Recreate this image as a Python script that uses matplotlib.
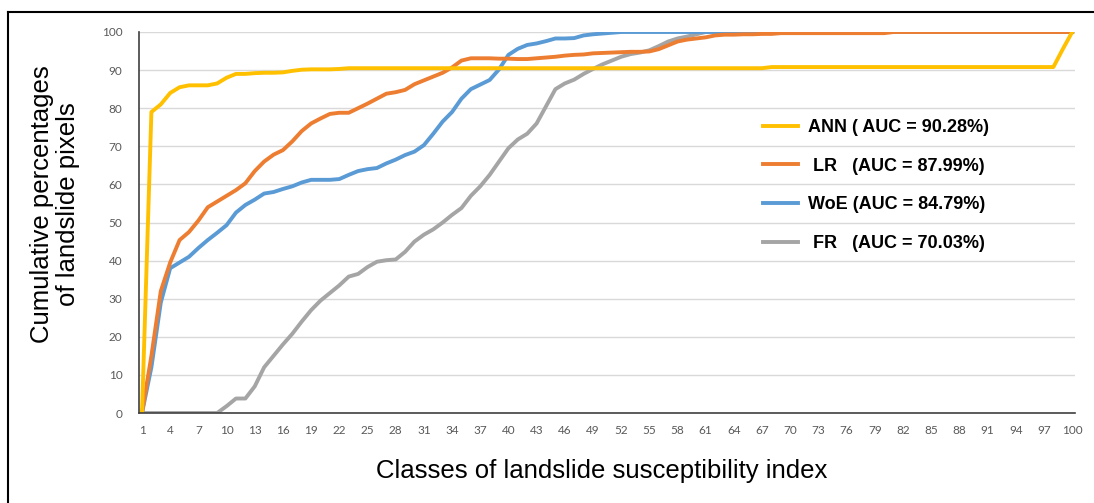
import matplotlib
matplotlib.use("Agg")
import matplotlib.pyplot as plt
from matplotlib.lines import Line2D
import numpy as np

classes = list(range(1, 101))

ann = [0, 79, 81, 84, 85.5, 86, 86, 86, 86.5, 88,
       89, 89, 89.2, 89.3, 89.3, 89.4, 89.8, 90.1, 90.2, 90.2,
       90.2, 90.3] + [90.5] * 45 + [90.8] * 31 + [95.5, 100]

lr = [0, 15, 32, 39.5, 45.4, 47.5, 50.5, 54, 55.5, 57,
      58.5, 60.3, 63.5, 66, 67.8, 69, 71.3, 74, 76, 77.3,
      78.5, 78.8, 78.8, 80, 81.2, 82.5, 83.8, 84.2, 84.8, 86.3,
      87.3, 88.3, 89.3, 90.7, 92.5, 93.1, 93.1, 93.1, 93, 93,
      92.9, 92.9, 93.1, 93.3, 93.5, 93.8, 94, 94.1, 94.4, 94.5,
      94.6, 94.7, 94.8, 94.8, 94.9, 95.5, 96.5, 97.5, 98, 98.3,
      98.6, 99.1, 99.3, 99.3, 99.4, 99.4, 99.5, 99.5] + [99.7] * 12 + [100] * 20

woe = [0, 12, 29, 38, 39.5, 41, 43.3, 45.4, 47.3, 49.3,
       52.6, 54.6, 56, 57.6, 58, 58.8, 59.5, 60.5, 61.2, 61.2,
       61.2, 61.4, 62.5, 63.5, 64, 64.3, 65.5, 66.5, 67.7, 68.6,
       70.3, 73.3, 76.5, 79, 82.5, 85, 86.2, 87.4, 90.2, 94,
       95.6, 96.6, 97, 97.6, 98.3, 98.3, 98.4, 99.1, 99.4, 99.6,
       99.8] + [100] * 49

fr = [0] * 9 + [1.8, 3.8, 3.8, 7, 12, 15, 18, 20.8, 24, 27,
      29.5, 31.5, 33.5, 35.8, 36.5, 38.3, 39.7, 40.1, 40.3, 42.3,
      45, 46.8, 48.2, 50, 52, 53.8, 57, 59.5, 62.5, 66,
      69.5, 71.8, 73.3, 76, 80.5, 85, 86.5, 87.5, 89, 90.3,
      91.5, 92.5, 93.5, 94.2, 94.6, 95.2, 96.3, 97.5, 98.3, 98.8,
      99.4] + [100] * 40

labels = ["ANN ( AUC = 90.28%)", " LR   (AUC = 87.99%)",
          "WoE (AUC = 84.79%)", " FR   (AUC = 70.03%)"]
colors = ["#FFC000", "#ED7D31", "#5B9BD5", "#A5A5A5"]
series = [ann, lr, woe, fr]

xticks = list(range(1, 101, 3))
yticks = list(range(0, 101, 10))

fig = plt.figure(figsize=(10.94, 5.03), dpi=100)
ax = fig.add_axes([139 / 1094, 1 - 413 / 503, 936 / 1094, 381 / 503])

# draw in reverse so ANN is on top
for s, c, l in list(zip(series, colors, labels))[::-1]:
    ax.plot(classes, s, color=c, lw=2.8, label=l, solid_joinstyle="round")

ax.set_xlim(0.68, 100.3)
ax.set_ylim(0, 100)
ax.set_xticks(xticks)
ax.set_yticks(yticks)
ax.tick_params(axis="both", length=0, labelsize=8.5, labelcolor="#595959")
ax.tick_params(axis="x", pad=9)
ax.tick_params(axis="y", pad=12)
for lab in ax.get_xticklabels() + ax.get_yticklabels():
    lab.set_fontfamily("Lato")
ax.grid(axis="y", color="#d9d9d9", lw=1)
ax.set_axisbelow(True)
for sp in ["top", "right"]:
    ax.spines[sp].set_visible(False)
ax.spines["left"].set_color("#404040")
ax.spines["bottom"].set_color("#404040")
ax.spines["left"].set_linewidth(1.2)
ax.spines["bottom"].set_linewidth(1.2)

fig.text(602 / 1094, 1 - 471 / 503, "Classes of landslide susceptibility index",
         ha="center", va="center", fontsize=18.5, family="Liberation Sans")
fig.text(55 / 1094, 1 - 204 / 503, "Cumulative percentages\nof landslide pixels",
         ha="center", va="center", rotation=90, fontsize=18.5,
         family="Liberation Sans", linespacing=1.15)

handles, labs = ax.get_legend_handles_labels()
handles, labs = handles[::-1], labs[::-1]
leg = ax.legend(handles, labs, loc="upper left",
                bbox_to_anchor=((763 - 139) / 936, (413 - 119) / 381),
                frameon=False, borderpad=0, borderaxespad=0,
                handlelength=1.95, handletextpad=0.55, labelspacing=1.2,
                prop={"family": "Liberation Sans", "weight": "bold", "size": 13})

fig.add_artist(Line2D([7.5 / 1094, 7.5 / 1094], [0, 1 - 11.5 / 503],
                      color="black", lw=1.5, transform=fig.transFigure))
fig.add_artist(Line2D([7.5 / 1094, 1], [1 - 11.5 / 503, 1 - 11.5 / 503],
                      color="black", lw=1.5, transform=fig.transFigure))

fig.savefig("out.png", dpi=100)
